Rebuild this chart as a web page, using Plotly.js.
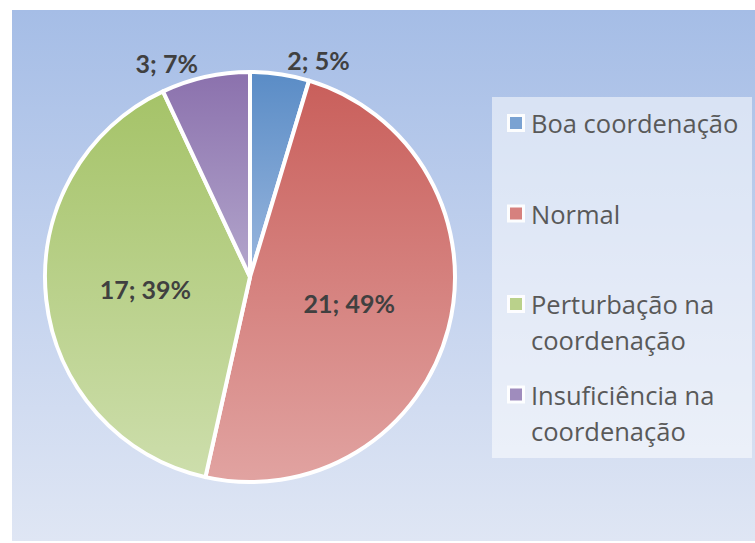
<!DOCTYPE html>
<html>
<head>
<meta charset="utf-8">
<script src="https://cdn.plot.ly/plotly-3.0.1.min.js"></script>
<style>
  html, body { margin: 0; padding: 0; background: #ffffff; }
  #wrap { position: relative; width: 755px; height: 543px; overflow: hidden; }
  #bg { position: absolute; left: 12px; top: 10px; width: 743px; height: 531px;
        background: linear-gradient(to bottom, #a5bde6 0%, #c3d2ee 50%, #dfe6f4 100%); }
  #chart { position: absolute; left: 0; top: 0; width: 755px; height: 543px; }
</style>
</head>
<body>
<div id="wrap"><div id="bg"></div><div id="chart"></div></div>
<script>
// ---- data ----
const categories = ["Boa coordenação", "Normal", "Perturbação na coordenação", "Insuficiência na coordenação"];
const counts = [2, 21, 17, 3];
const percentLabels = [5, 49, 39, 7];
// ---- styling ----
const topColors = ["#5a8cc6", "#c95f5b", "#a5c368", "#8b71ad"];
const bottomColors = ["#9ab7de", "#e1a3a1", "#cddeac", "#b3a6cc"];
const midColors = ["#7aa2d2", "#d6817e", "#bad18b", "#9f8cbd"];
const textPos = ["outside", "inside", "inside", "outside"];

const W = 755, H = 543;
const cx = 250, cy = 277, R = 205;

const labelsText = counts.map((c, i) => c + "; " + percentLabels[i] + "%");
const labelFont = { family: "Lato, 'Open Sans', sans-serif", size: 25, color: "#404040", weight: "bold" };

const trace = {
  type: "pie",
  labels: categories,
  values: counts,
  text: labelsText,
  textinfo: "text",
  textposition: textPos,
  insidetextorientation: "horizontal",
  sort: false,
  direction: "clockwise",
  rotation: 0,
  marker: { colors: midColors, line: { color: "#ffffff", width: 4 } },
  textfont: labelFont,
  insidetextfont: labelFont,
  outsidetextfont: labelFont,
  domain: { x: [(cx - R) / W, (cx + R) / W], y: [1 - (cy + R) / H, 1 - (cy - R) / H] },
  showlegend: false,
  hoverinfo: "label+value+percent"
};

// manual legend (legend box + entries)
function wrap(s, maxChars) {
  const words = s.split(" ");
  const lines = [];
  let cur = "";
  words.forEach(w => {
    const t = cur ? cur + " " + w : w;
    if (t.length > maxChars && cur) { lines.push(cur); cur = w; } else { cur = t; }
  });
  if (cur) lines.push(cur);
  return lines;
}
const legX0 = 492, legX1 = 752, legY0 = 97, legY1 = 458;
const itemY0 = 123, itemStep = 90.5, lineStep = 36;
const symX = 516, textX = 529;
const px = x => x / W, py = y => 1 - y / H;

const shapes = [{
  type: "rect", xref: "paper", yref: "paper",
  x0: px(legX0), x1: px(legX1), y0: py(legY1), y1: py(legY0),
  fillcolor: "rgba(255,255,255,0.52)", line: { width: 0 }, layer: "below"
}];
const annotations = [];
categories.forEach((cat, i) => {
  const y = itemY0 + i * itemStep;
  shapes.push({ type: "rect", xref: "paper", yref: "paper",
    x0: px(symX - 9), x1: px(symX + 9), y0: py(y + 9), y1: py(y - 9),
    fillcolor: "rgba(255,255,255,0.9)", line: { width: 0 } });
  shapes.push({ type: "rect", xref: "paper", yref: "paper",
    x0: px(symX - 6), x1: px(symX + 6), y0: py(y + 6), y1: py(y - 6),
    fillcolor: midColors[i], line: { width: 0 } });
  wrap(cat, 16).forEach((ln, k) => {
    annotations.push({ xref: "paper", yref: "paper", x: px(textX), y: py(y + k * lineStep),
      xanchor: "left", yanchor: "middle", showarrow: false, text: ln,
      font: { family: "'Open Sans', Lato, sans-serif", size: 25.5, color: "#595959" } });
  });
});

const layout = {
  width: W, height: H,
  margin: { l: 0, r: 0, t: 0, b: 0 },
  paper_bgcolor: "rgba(0,0,0,0)",
  plot_bgcolor: "rgba(0,0,0,0)",
  showlegend: false,
  shapes: shapes,
  annotations: annotations
};

Plotly.newPlot("chart", [trace], layout, { displayModeBar: false, staticPlot: true }).then(gd => {
  // per-slice vertical gradient like the original
  const svgNS = "http://www.w3.org/2000/svg";
  const defs = gd.querySelector(".main-svg defs");
  topColors.forEach((c, i) => {
    const g = document.createElementNS(svgNS, "linearGradient");
    g.setAttribute("id", "sliceGrad" + i);
    g.setAttribute("x1", "0"); g.setAttribute("y1", "0");
    g.setAttribute("x2", "0"); g.setAttribute("y2", "1");
    const s1 = document.createElementNS(svgNS, "stop");
    s1.setAttribute("offset", "0"); s1.setAttribute("stop-color", c);
    const s2 = document.createElementNS(svgNS, "stop");
    s2.setAttribute("offset", "1"); s2.setAttribute("stop-color", bottomColors[i]);
    g.appendChild(s1); g.appendChild(s2);
    defs.appendChild(g);
  });
  gd.querySelectorAll("g.slice").forEach((sl, i) => {
    const p = sl.querySelector("path.surface");
    if (p) p.style.fill = "url(#sliceGrad" + i + ")";
  });
});
</script>
</body>
</html>
